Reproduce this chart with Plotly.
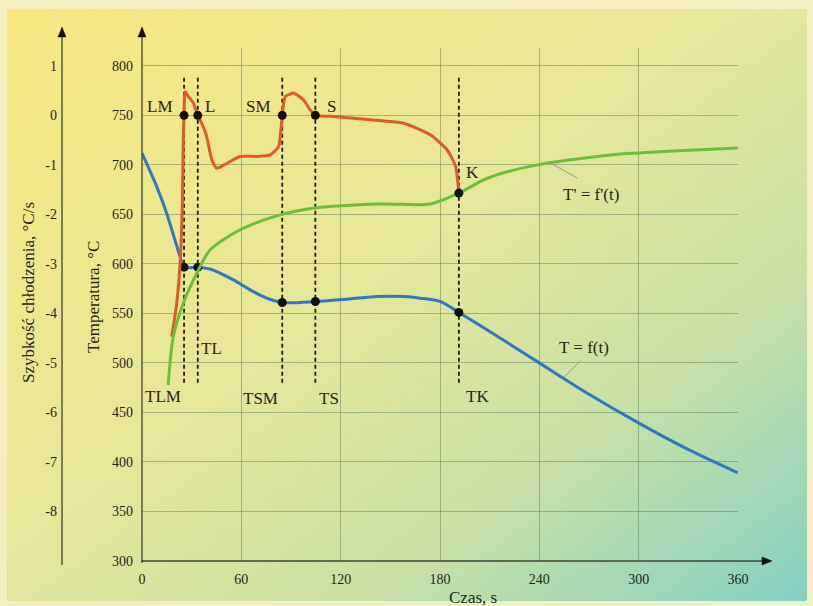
import base64
import plotly.graph_objects as go

# ---------------- data ----------------
time_blue = [0, 8.9, 14.9, 23, 25.4, 33.7, 41.1, 55.2, 65.3, 75.4, 84.7, 104.7, 125, 142, 158,
             168.2, 180.3, 191.4, 208.6, 238.8, 269, 299.3, 329.5, 359.8]
temp_blue = [711.8, 678, 651.2, 607.4, 596.7, 596.5, 594.8, 583.8, 573.7, 565.4, 561, 562, 564.5,
             567, 567, 565.4, 561.9, 551, 533.3, 501.3, 469.4, 440, 413, 389.2]

time_green = [15.8, 18.9, 25, 33.1, 41.1, 59.3, 83.5, 104.7, 144, 174.2, 191.4, 208.6, 238.8,
              289.2, 300, 327.5, 359.8]
rate_green = [-5.45, -4.47, -3.79, -3.19, -2.72, -2.31, -2.01, -1.87, -1.79, -1.79, -1.57, -1.27,
              -1.0, -0.78, -0.76, -0.71, -0.66]

time_red = [18, 21, 23, 24.3, 25, 25.4, 26, 28, 31, 33.7, 36.1, 39.1, 42.2, 45.2, 51.2, 59.3,
            69.4, 77.4, 82.5, 84.7, 86.5, 91.5, 97.6, 101.6, 104.7, 113.7, 137.9, 158.1, 174.2,
            184.4, 189.4, 191.4]
rate_red = [-4.47, -3.79, -2.99, -1.9, -0.36, 0, 0.48, 0.38, 0.25, 0, -0.16, -0.43, -0.9, -1.07,
            -0.97, -0.83, -0.83, -0.8, -0.63, 0, 0.38, 0.45, 0.31, 0.11, 0, -0.02, -0.09, -0.16,
            -0.39, -0.7, -1.03, -1.57]

event_t = [25.4, 33.7, 84.7, 104.7, 191.4]
event_temp = [596.7, 596.7, 561, 562, 551]
event_rate = [0, 0, 0, 0, -1.57]
upper_labels = ["LM", "L", "SM", "S", "K"]
lower_labels = ["TLM", "TL", "TSM", "TS", "TK"]

time_ticks = [0, 60, 120, 180, 240, 300, 360]
temp_ticks = [300, 350, 400, 450, 500, 550, 600, 650, 700, 750, 800]
rate_ticks = [1, 0, -1, -2, -3, -4, -5, -6, -7, -8]
rate_tick_text = ["1", "0", "-1", "-2", "-3", "-4", "-5", "-6", "-7", "-8"]

# ---------------- geometry helpers ----------------
W, H = 813, 606
ML, MR, MT, MB = 20, 75, 48, 45
PW, PH = W - ML - MR, H - MT - MB


def px(xp):
    return (xp - ML) / PW


def py(yp):
    return (H - MB - yp) / PH


FONT = "Liberation Serif"
TXT = "#23261b"
AX = "#3b4434"

fig = go.Figure()

# vertical dashed event lines
for t in event_t:
    fig.add_trace(go.Scatter(x=[t, t], y=[480, 788], mode="lines",
                             line=dict(color="#1e1e1e", width=1.8, dash="4px,3px"),
                             hoverinfo="skip", showlegend=False))

fig.add_trace(go.Scatter(x=time_red, y=rate_red, yaxis="y2", mode="lines",
                         line=dict(color="#e3582b", width=3, shape="spline", smoothing=0.5),
                         showlegend=False))
fig.add_trace(go.Scatter(x=time_green, y=rate_green, yaxis="y2", mode="lines",
                         line=dict(color="#6cbf3c", width=3, shape="spline", smoothing=0.8),
                         showlegend=False))
fig.add_trace(go.Scatter(x=time_blue, y=temp_blue, mode="lines",
                         line=dict(color="#2f78c2", width=3, shape="spline", smoothing=0.8),
                         showlegend=False))

fig.add_trace(go.Scatter(x=event_t, y=event_temp, mode="markers",
                         marker=dict(color="#101010", size=9), showlegend=False))
fig.add_trace(go.Scatter(x=event_t, y=event_rate, yaxis="y2", mode="markers",
                         marker=dict(color="#101010", size=9), showlegend=False))

# background gradient
svg = ('<svg xmlns="http://www.w3.org/2000/svg" width="800" height="600" viewBox="0 0 800 600" '
       'preserveAspectRatio="none"><defs><linearGradient id="g" x1="0" y1="0" x2="1" y2="1">'
       '<stop offset="0" stop-color="#f8e880"/><stop offset="0.45" stop-color="#e6e799"/>'
       '<stop offset="0.72" stop-color="#c9e1a5"/><stop offset="1" stop-color="#84d0c4"/>'
       '</linearGradient></defs><rect width="800" height="600" fill="url(#g)"/></svg>')
src = "data:image/svg+xml;base64," + base64.b64encode(svg.encode()).decode()

shapes = []
# axis lines
shapes.append(dict(type="line", xref="paper", yref="paper", x0=px(142), x1=px(142),
                   y0=py(563), y1=py(35), line=dict(color=AX, width=1.3)))
shapes.append(dict(type="line", xref="paper", yref="paper", x0=px(62), x1=px(62),
                   y0=py(565), y1=py(35), line=dict(color=AX, width=1.3)))
shapes.append(dict(type="line", xref="paper", yref="paper", x0=px(141), x1=px(764),
                   y0=py(561), y1=py(561), line=dict(color=AX, width=1.3)))


def tri(p):
    return "M " + " L ".join(f"{px(a)},{py(b)}" for a, b in p) + " Z"


for xa in (62, 142):
    shapes.append(dict(type="path", xref="paper", yref="paper",
                       path=tri([(xa, 27), (xa - 4, 37), (xa + 4, 37)]),
                       fillcolor="#111", line=dict(color="#111", width=0.5)))
shapes.append(dict(type="path", xref="paper", yref="paper",
                   path=tri([(772, 561), (762, 557), (762, 565)]),
                   fillcolor="#111", line=dict(color="#111", width=0.5)))
# pointer lines for curve labels
shapes.append(dict(type="line", xref="x", yref="y", x0=263, y0=686.6, x1=246.8, y1=701.8,
                   line=dict(color="#8d9c8a", width=1)))
shapes.append(dict(type="line", xref="x", yref="y", x0=265, y0=502.3, x1=254.9, y1=485.6,
                   line=dict(color="#8d9c8a", width=1)))

ann = []
upper_pos = [(10.9, 758.9), (41.1, 758.9), (70.4, 758.9), (114.3, 758.9), (199.5, 692.2)]
lower_pos = [(12.9, 466), (42.2, 514.8), (71.4, 464.3), (112.7, 464.3), (202.9, 466)]
for lab, (x, y) in zip(upper_labels + lower_labels, upper_pos + lower_pos):
    ann.append(dict(x=x, y=y, xref="x", yref="y", text=lab, showarrow=False,
                    xanchor="center", yanchor="middle",
                    font=dict(family=FONT, size=17, color=TXT)))
ann.append(dict(x=271, y=669.7, xref="x", yref="y", text="T' = f'(t)", showarrow=False,
                xanchor="center", yanchor="middle", font=dict(family=FONT, size=17, color=TXT)))
ann.append(dict(x=267, y=515.9, xref="x", yref="y", text="T = f(t)", showarrow=False,
                xanchor="center", yanchor="middle", font=dict(family=FONT, size=17, color=TXT)))
ann.append(dict(x=px(28), y=py(293), xref="paper", yref="paper", text="Szybkość chłodzenia, °C/s",
                textangle=-90, showarrow=False, xanchor="center", yanchor="middle",
                font=dict(family=FONT, size=17, color=TXT)))
ann.append(dict(x=px(93), y=py(297), xref="paper", yref="paper", text="Temperatura, °C",
                textangle=-90, showarrow=False, xanchor="center", yanchor="middle",
                font=dict(family=FONT, size=17, color=TXT)))
ann.append(dict(x=px(473), y=py(597), xref="paper", yref="paper", text="Czas, s",
                showarrow=False, xanchor="center", yanchor="middle",
                font=dict(family=FONT, size=17, color=TXT)))

GRID = "rgba(95,125,95,0.5)"
tickfont = dict(family=FONT, size=14, color=TXT)

fig.update_layout(
    width=W, height=H,
    margin=dict(l=ML, r=MR, t=MT, b=MB),
    paper_bgcolor="#f3efc2",
    plot_bgcolor="rgba(0,0,0,0)",
    showlegend=False,
    images=[dict(source=src, xref="paper", yref="paper", x=px(7), y=py(9),
                 sizex=(807 - 7) / PW, sizey=(601 - 9) / PH, xanchor="left", yanchor="top",
                 sizing="stretch", layer="below")],
    xaxis=dict(domain=[px(142), 1], range=[0, 360], tickvals=time_ticks, showgrid=True,
               gridcolor=GRID, gridwidth=1, zeroline=False, showline=False, ticks="",
               tickfont=tickfont, ticklabelstandoff=8),
    yaxis=dict(range=[300, 818], tickvals=temp_ticks, showgrid=True, gridcolor=GRID,
               gridwidth=1, zeroline=False, showline=False, ticks="", tickfont=tickfont,
               ticklabelstandoff=8),
    yaxis2=dict(overlaying="y", anchor="free", position=px(62), side="left",
                range=[-9, 1.36], tickvals=rate_ticks, ticktext=rate_tick_text, showgrid=False,
                zeroline=False, showline=False, ticks="", tickfont=tickfont,
                ticklabelstandoff=5),
    shapes=shapes,
    annotations=ann,
)

fig.write_html("out.html")
